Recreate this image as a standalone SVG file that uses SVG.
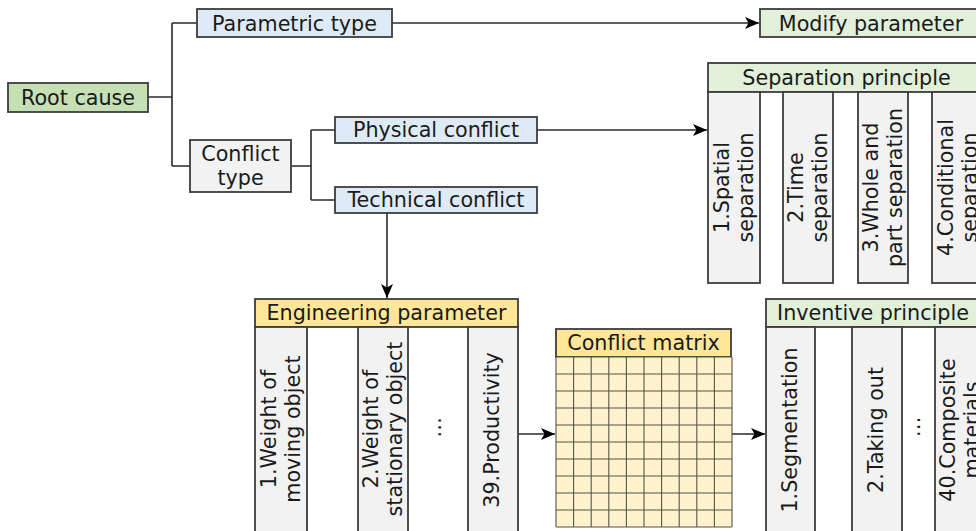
<svg xmlns="http://www.w3.org/2000/svg" width="976" height="531" viewBox="0 0 976 531">
<defs>
<style>
text{font-family:"DejaVu Sans","Verdana",sans-serif;font-size:20.7px;fill:#1a1a1a;text-anchor:middle}
.box{stroke:#3c3c3c;stroke-width:1.8}
.root{fill:#c5e0b4}
.lg{fill:#e2f0d9}
.bl{fill:#deebf7}
.gr{fill:#f2f2f2}
.gold{fill:#ffe699}
.mat{fill:#fff2cc}
.ln{fill:none;stroke:#2a2a2a;stroke-width:1.6}
.grid{stroke:#55554c;stroke-width:1.1}
</style>
<marker id="ah" viewBox="0 0 14 13" refX="14" refY="6.5" markerWidth="14" markerHeight="13" markerUnits="userSpaceOnUse" orient="auto">
<path d="M0,0.5 L14,6.5 L0,12.5 L3.5,6.5 Z" fill="#000"/>
</marker>
</defs>
<rect width="976" height="531" fill="#fff"/>

<g id="connectors">
<path class="ln" d="M148,97 H172 M172,23 V166 M172,23 H197 M172,166 H190"/>
<path class="ln" d="M291,166 H311 M311,130 V200 M311,130 H335 M311,200 H335"/>
<path class="ln" d="M392,23 H759" marker-end="url(#ah)"/>
<path class="ln" d="M537,130 H707" marker-end="url(#ah)"/>
<path class="ln" d="M387,213 V298" marker-end="url(#ah)"/>
<path class="ln" d="M518,434 H555" marker-end="url(#ah)"/>
<path class="ln" d="M732,434 H765" marker-end="url(#ah)"/>
</g>

<g id="root-cause">
<rect class="box root" x="8" y="83" width="140" height="29"/>
<text x="78" y="104.5">Root cause</text>
</g>

<g id="parametric-type">
<rect class="box bl" x="197" y="9" width="195" height="28"/>
<text x="294.5" y="30.5">Parametric type</text>
</g>

<g id="modify-parameter">
<rect class="box lg" x="760" y="9" width="222" height="28"/>
<text x="871" y="30.5">Modify parameter</text>
</g>

<g id="conflict-type">
<rect class="box gr" x="190" y="140" width="101" height="52"/>
<text x="240.5" y="160.5">Conflict</text>
<text x="240.5" y="184.5">type</text>
</g>

<g id="physical-conflict">
<rect class="box bl" x="335" y="117" width="202" height="26"/>
<text x="436" y="137">Physical conflict</text>
</g>

<g id="technical-conflict">
<rect class="box bl" x="335" y="187" width="202" height="26"/>
<text x="436" y="207">Technical conflict</text>
</g>

<g id="separation-principle">
<rect class="box lg" x="708" y="63" width="278" height="29"/>
<text x="846.5" y="85">Separation principle</text>
<rect class="box gr" x="708" y="92" width="52" height="191"/>
<rect class="box gr" x="783" y="92" width="50" height="191"/>
<rect class="box gr" x="858" y="92" width="50" height="191"/>
<rect class="box gr" x="932" y="92" width="52" height="191"/>
<text transform="translate(734,187.5) rotate(-90)"><tspan x="0" y="-5">1.Spatial</tspan><tspan x="0" y="19">separation</tspan></text>
<text transform="translate(808,187.5) rotate(-90)"><tspan x="0" y="-5">2.Time</tspan><tspan x="0" y="19">separation</tspan></text>
<text transform="translate(883,187.5) rotate(-90)"><tspan x="0" y="-5">3.Whole and</tspan><tspan x="0" y="19">part separation</tspan></text>
<text transform="translate(958,187.5) rotate(-90)"><tspan x="0" y="-5">4.Conditional</tspan><tspan x="0" y="19">separation</tspan></text>
</g>

<g id="engineering-parameter">
<rect class="box gold" x="255" y="299" width="263" height="28"/>
<text x="386.5" y="320">Engineering parameter</text>
<rect class="box gr" x="255" y="327" width="52" height="206"/>
<rect class="box gr" x="358" y="327" width="50" height="206"/>
<rect class="box gr" x="468" y="327" width="50" height="206"/>
<text transform="translate(281,429) rotate(-90)"><tspan x="0" y="-5">1.Weight of</tspan><tspan x="0" y="19">moving object</tspan></text>
<text transform="translate(383,429) rotate(-90)"><tspan x="0" y="-5">2.Weight of</tspan><tspan x="0" y="19">stationary object</tspan></text>
<text transform="translate(438,427) rotate(-90)" x="0" y="3" letter-spacing="1">…</text>
<text transform="translate(493,430) rotate(-90)" x="0" y="5.5">39.Productivity</text>
</g>

<g id="conflict-matrix">
<rect class="box gold" x="556" y="329" width="175" height="28"/>
<text x="643.5" y="350">Conflict matrix</text>
<rect class="mat" x="556" y="357" width="176" height="170"/>
<path class="grid" d="M556,357 V527 M573.6,357 V527 M591.2,357 V527 M608.8,357 V527 M626.4,357 V527 M644,357 V527 M661.6,357 V527 M679.2,357 V527 M696.8,357 V527 M714.4,357 V527 M732,357 V527 M556,357 H732 M556,374 H732 M556,391 H732 M556,408 H732 M556,425 H732 M556,442 H732 M556,459 H732 M556,476 H732 M556,493 H732 M556,510 H732 M556,527 H732"/>
</g>

<g id="inventive-principle">
<rect class="box lg" x="766" y="299" width="218" height="28"/>
<text x="873" y="320">Inventive principle</text>
<rect class="box gr" x="766" y="327" width="49" height="206"/>
<rect class="box gr" x="852" y="327" width="50" height="206"/>
<rect class="box gr" x="935" y="327" width="50" height="206"/>
<text transform="translate(790.5,430) rotate(-90)" x="0" y="6">1.Segmentation</text>
<text transform="translate(877,430) rotate(-90)" x="0" y="6">2.Taking out</text>
<text transform="translate(918,427) rotate(-90)" x="0" y="2">…</text>
<text transform="translate(960,430) rotate(-90)"><tspan x="0" y="-5">40.Composite</tspan><tspan x="0" y="19">materials</tspan></text>
</g>
</svg>
